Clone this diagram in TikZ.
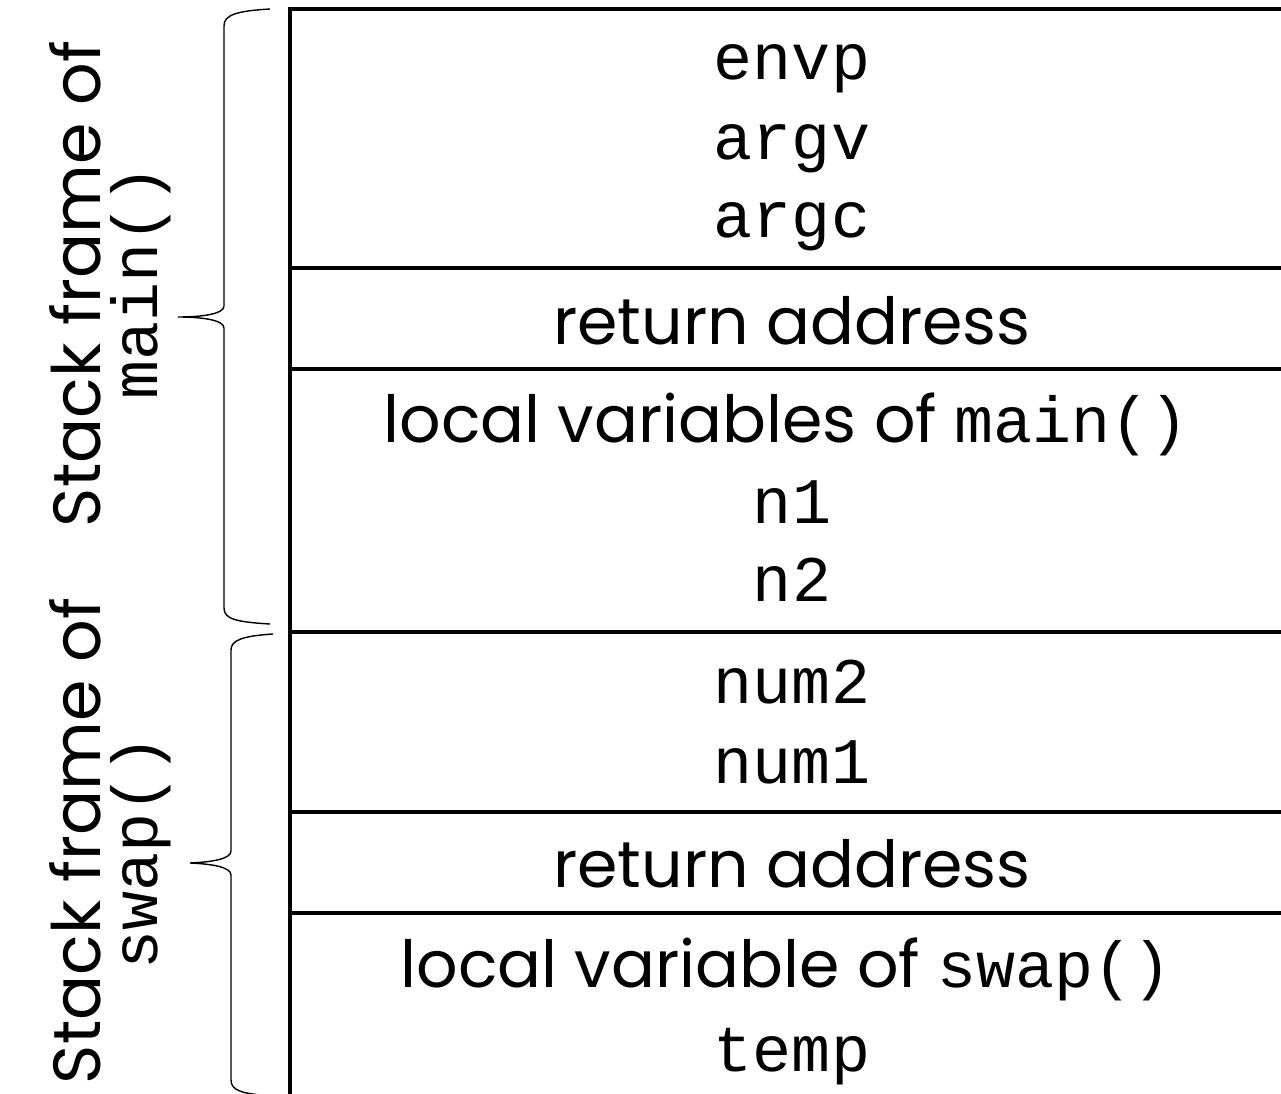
\documentclass[tikz,border=0pt]{standalone}
\usepackage{fontspec}
\setmainfont{Poppins}
\setmonofont{Liberation Mono}
\usepackage{tikz}
\usetikzlibrary{positioning}
\tikzset{>=latex}
\newcommand{\codesize}{\fontsize{37}{40}\selectfont\ttfamily}
\newcommand{\textsize}{\fontsize{37}{42}\selectfont}
\newcommand{\labelsize}{\fontsize{38}{44}\selectfont}

\begin{document}
\begin{tikzpicture}[x=0.02cm,y=-0.02cm,
  wall/.style={line width=2pt},
  brc/.style={line width=0.8pt},
  code/.style={inner sep=0pt,anchor=base,font=\codesize},
  word/.style={inner sep=0pt,anchor=base,font=\textsize},
  side/.style={inner sep=0pt,anchor=base,rotate=90,font=\labelsize},
  sidecode/.style={inner sep=0pt,anchor=base,rotate=90,font=\codesize}]

\useasboundingbox (0,0) rectangle (1281,1094);

% Stack
\draw[wall] (290,1100) -- (290,9) -- (1281,9);
\foreach \y in {268,369,632,812,913}
  \draw[wall] (290,\y) -- (1281,\y);

% Frame of main()
\node[code] (envp) at (792,80) {envp};
\node[code] (argv) at (792,160) {argv};
\node[code] (argc) at (792,238) {argc};
\node[word] (ret1) at (792,345) {return address};
\node[word] (locmain) at (786,443) {local variables of {\codesize main()}};
\node[code] (n1) at (792,523) {n1};
\node[code] (n2) at (792,601) {n2};

% Frame of swap()
\node[code] (num2) at (792,703) {num2};
\node[code] (num1) at (792,783) {num1};
\node[word] (ret2) at (792,887) {return address};
\node[word] (locswap) at (786,987) {local variable of {\codesize swap()}};
\node[code] (temp) at (792,1071) {temp};

% Braces
\draw[brc] (270,9) .. controls (236,11) and (224,15) .. (224,26) -- (224,306)
  .. controls (224,314) and (202,317) .. (178,317)
  .. controls (202,317) and (224,320) .. (224,328) -- (224,608)
  .. controls (224,619) and (236,622) .. (270,624);
\draw[brc] (273,634) .. controls (243,636) and (231,640) .. (231,650) -- (231,851)
  .. controls (231,859) and (212,862) .. (190,863)
  .. controls (212,864) and (231,867) .. (231,875) -- (231,1080)
  .. controls (231,1091) and (243,1094) .. (273,1096);

% Labels
\node[side] (lblmain) at (100,284) {Stack frame of};
\node[sidecode] (fnmain) at (157,282) {main()};
\node[side] (lblswap) at (100,841) {Stack frame of};
\node[sidecode] (fnswap) at (157,852) {swap()};

\end{tikzpicture}
\end{document}
